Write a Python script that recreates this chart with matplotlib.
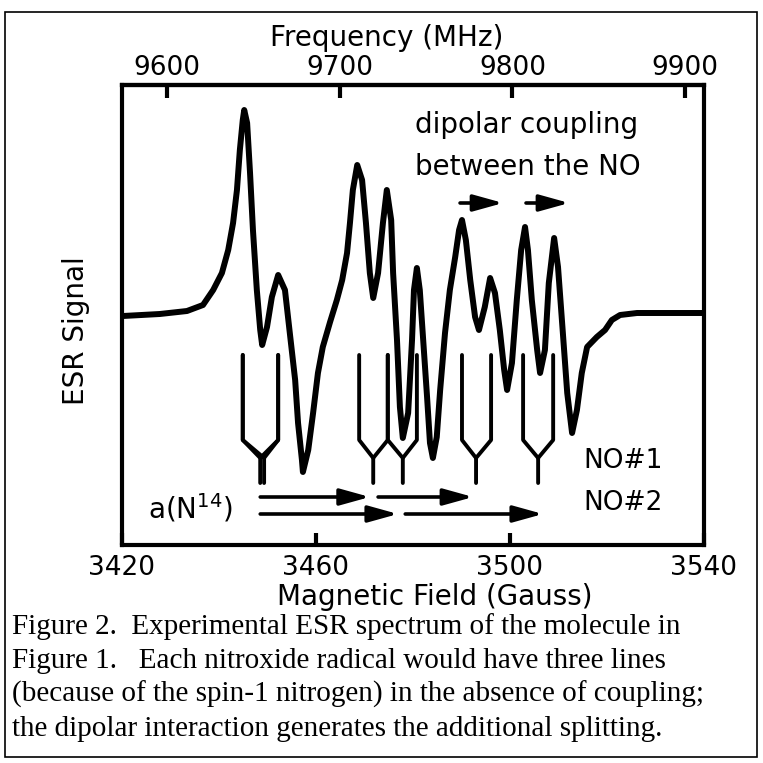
import matplotlib
matplotlib.use("Agg")
import matplotlib.pyplot as plt
from matplotlib.patches import Rectangle


field = [
    3420.2, 3427.8, 3433.4, 3436.7, 3438.8, 3440.6, 3441.9, 3442.9, 3443.7, 3444.3,
    3444.9, 3445.2, 3445.8, 3446.4, 3447.0, 3447.8, 3448.5, 3448.9, 3449.9, 3450.9,
    3452.2, 3453.6, 3454.6, 3455.7, 3456.3, 3457.1, 3457.3, 3458.4, 3459.4, 3460.4,
    3461.4, 3462.9, 3464.3, 3465.4, 3466.4, 3467.0, 3467.6, 3468.5, 3469.5, 3470.3,
    3471.1, 3471.8, 3472.8, 3473.8, 3474.6, 3475.5, 3475.9, 3476.7, 3477.3, 3477.9,
    3479.0, 3479.8, 3480.2, 3480.8, 3481.4, 3482.1, 3482.9, 3483.5, 3484.1, 3484.9,
    3485.6, 3486.6, 3487.6, 3488.7, 3489.5, 3490.1, 3490.9, 3491.8, 3492.8, 3493.6,
    3494.8, 3495.9, 3496.9, 3497.9, 3498.8, 3499.4, 3500.4, 3501.4, 3502.3, 3503.1,
    3503.7, 3504.5, 3505.6, 3506.2, 3507.2, 3508.0, 3509.1, 3509.9, 3510.9, 3511.8,
    3512.8, 3513.8, 3514.8, 3515.9, 3517.9, 3519.6, 3521.0, 3522.7, 3526.2, 3539.8,
]
signal = [
    -2, 0, 3, 9, 24, 41, 64, 91, 124, 164,
    194, 204, 191, 141, 84, 24, -16, -31, -13, 17,
    39, 24, -19, -66, -109, -146, -158, -136, -99, -59,
    -33, -8, 14, 34, 61, 91, 124, 149, 134, 91,
    41, 16, 41, 91, 124, 94, 41, -26, -93, -124,
    -99, -26, 24, 46, 24, -26, -83, -129, -144, -123,
    -76, -19, 24, 57, 84, 94, 74, 34, -3, -16,
    7, 36, 21, -16, -56, -76, -49, 14, 64, 87,
    64, 14, -36, -59, -36, 31, 76, 47, -19, -79,
    -119, -96, -59, -33, -23, -16, -6, -1, 1, 1,
]

# stick diagram: each fork = left arm, right arm, stem (Gauss)
fork_left = [3444.9, 3444.9, 3468.9, 3474.8, 3490.1, 3502.7]
fork_right = [3452.2, 3452.2, 3474.8, 3480.8, 3496.1, 3508.9]
fork_stem = [3448.5, 3449.3, 3471.8, 3477.9, 3493.0, 3505.8]

# a(N14) hyperfine arrows for each radical, and dipolar splitting arrows
no1_arrows = [(3448.5, 3471.1), (3472.8, 3492.4)]
no2_arrows = [(3448.5, 3476.9), (3478.4, 3506.8)]
dipolar_arrows = [(3489.7, 3498.6), (3503.3, 3512.2)]

field_ticks = [3420, 3460, 3500, 3540]
freq_ticks = [9600, 9700, 9800, 9900]

caption = [
    "Figure 2.  Experimental ESR spectrum of the molecule in",
    "Figure 1.   Each nitroxide radical would have three lines",
    "(because of the spin-1 nitrogen) in the absence of coupling;",
    "the dipolar interaction generates the additional splitting.",
]

SIZE = 763


def px(x, y):
    """pixel position (from top-left) -> figure fraction"""
    return x / SIZE, 1 - y / SIZE


def b2f(b):
    return 9600 + (b - 3429.3) * 2.809


def f2b(f):
    return 3429.3 + (f - 9600) / 2.809


def arrow(ax, x0, x1, y):
    ax.annotate(
        "", xy=(x1, y), xytext=(x0, y),
        arrowprops=dict(
            arrowstyle="-|>,head_length=0.9,head_width=0.25",
            mutation_scale=20, lw=2.6, color="black",
            shrinkA=0, shrinkB=0,
        ),
    )


fig = plt.figure(figsize=(7.63, 7.63), dpi=100)
ax = fig.add_axes([122 / SIZE, 1 - 545 / SIZE, 582 / SIZE, 460 / SIZE])

ax.plot(field, signal, color="black", lw=4.3,
        solid_joinstyle="round", solid_capstyle="round")

# stick diagram
for l, r, s in zip(fork_left, fork_right, fork_stem):
    ax.plot([l, l, s, s], [-41, -126, -144, -169], color="black", lw=2.8,
            solid_capstyle="round")
    ax.plot([r, r, s], [-41, -126, -144], color="black", lw=2.8,
            solid_capstyle="round")

for x0, x1 in no1_arrows:
    arrow(ax, x0, x1, -183)
for x0, x1 in no2_arrows:
    arrow(ax, x0, x1, -200)
for x0, x1 in dipolar_arrows:
    arrow(ax, x0, x1, 111)

ax.text(3480.4, 181, "dipolar coupling", fontsize=20, va="baseline")
ax.text(3480.4, 139, "between the NO", fontsize=20, va="baseline")
ax.text(3425.4, -204, r"a(N$^{14}$)", fontsize=20, va="baseline")
ax.text(3515.1, -154, "NO#1", fontsize=19, va="baseline")
ax.text(3515.1, -196, "NO#2", fontsize=19, va="baseline")

ax.set_xlim(3420, 3540)
ax.set_ylim(-231, 229)
ax.set_xticks(field_ticks)
ax.set_xticklabels([str(t) for t in field_ticks])
ax.set_yticks([])
ax.tick_params(axis="x", direction="in", length=9, width=3, labelsize=19, pad=7)
for sp in ax.spines.values():
    sp.set_linewidth(3)

sec = ax.secondary_xaxis("top", functions=(b2f, f2b))
sec.set_xticks(freq_ticks)
sec.set_xticklabels([str(t) for t in freq_ticks])
sec.tick_params(direction="in", length=9, width=3, labelsize=19, pad=3)
sec.spines["top"].set_linewidth(3)

fig.text(*px(387, 38), "Frequency (MHz)", fontsize=20, ha="center", va="center")
fig.text(*px(435, 597), "Magnetic Field (Gauss)", fontsize=20, ha="center", va="center")
fig.text(*px(76, 331), "ESR Signal", fontsize=20, ha="center", va="center", rotation=90)

for i, line in enumerate(caption):
    fig.text(*px(12, 634 + 34 * i), line, fontsize=21,
             family="Liberation Serif", ha="left", va="baseline")

x0, y0 = px(5, 757)
x1, y1 = px(757, 12)
fig.patches.append(Rectangle((x0, y0), x1 - x0, y1 - y0, transform=fig.transFigure,
                             fill=False, lw=1.2, edgecolor="black"))

fig.savefig("out.png", dpi=100)
